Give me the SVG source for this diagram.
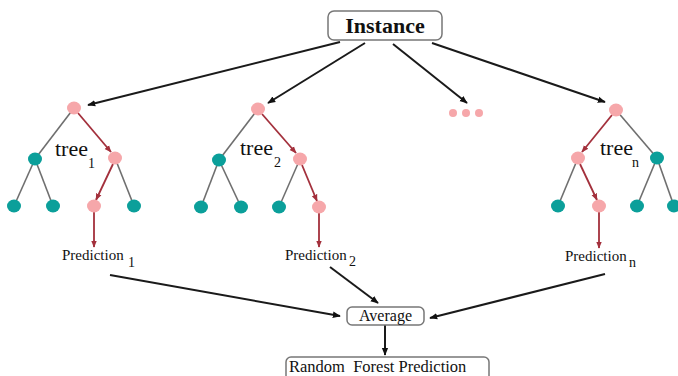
<svg xmlns="http://www.w3.org/2000/svg" width="678" height="376" viewBox="0 0 678 376">
<defs>
<marker id="ab" viewBox="0 0 10 10" refX="9" refY="5" markerWidth="4" markerHeight="4" orient="auto" markerUnits="strokeWidth"><path d="M0,1 L10,5 L0,9 z" fill="#111"/></marker>
<marker id="ar" viewBox="0 0 10 10" refX="9" refY="5" markerWidth="4" markerHeight="4" orient="auto" markerUnits="strokeWidth"><path d="M0,1 L10,5 L0,9 z" fill="#a3303c"/></marker>
<style>
.bl{stroke:#1a1a1a;stroke-width:2;fill:none;marker-end:url(#ab)}
.gr{stroke:#6f6f6f;stroke-width:1.6;fill:none}
.rd{stroke:#a3303c;stroke-width:1.8;fill:none;marker-end:url(#ar)}
.pk{fill:#f6a7aa}
.tl{fill:#0b9f9a}
.box{fill:#fff;stroke:#777;stroke-width:1.5}
.t{font-family:"Liberation Serif","Times New Roman",serif;fill:#111}
.tr{font-size:22px}
.sub{font-size:14px}
.pr{font-size:15px}
</style>
</defs>
<g id="connectors">
<line class="bl" x1="340" y1="42" x2="88" y2="105"/>
<line class="bl" x1="365" y1="43" x2="268" y2="103"/>
<line class="bl" x1="393" y1="44" x2="467" y2="103"/>
<line class="bl" x1="432" y1="43" x2="605" y2="102"/>
<line class="bl" x1="110" y1="275" x2="340" y2="316"/>
<line class="bl" x1="330" y1="267" x2="378" y2="303"/>
<line class="bl" x1="605" y1="274" x2="430" y2="318"/>
<line class="bl" x1="385" y1="325" x2="385" y2="355"/>
</g>
<g id="instance">
<rect class="box" x="328" y="11" width="114" height="29" rx="6"/>
<text class="t" x="385" y="33" text-anchor="middle" font-size="22" font-weight="bold">Instance</text>
</g>
<g id="tree1">
<line class="gr" x1="74" y1="108" x2="35" y2="159"/>
<line class="gr" x1="35" y1="159" x2="14" y2="206"/>
<line class="gr" x1="35" y1="159" x2="53" y2="206"/>
<line class="gr" x1="115" y1="158" x2="134" y2="206"/>
<line class="rd" x1="78" y1="113" x2="111" y2="152"/>
<line class="rd" x1="113" y1="164" x2="96" y2="200"/>
<line class="rd" x1="94" y1="212" x2="94" y2="247"/>
<ellipse class="pk" cx="74" cy="108" rx="7" ry="6.5"/>
<ellipse class="tl" cx="35" cy="159" rx="7" ry="6.5"/>
<ellipse class="pk" cx="115" cy="158" rx="7" ry="6.5"/>
<ellipse class="tl" cx="14" cy="206" rx="7" ry="6.5"/>
<ellipse class="tl" cx="53" cy="206" rx="7" ry="6.5"/>
<ellipse class="pk" cx="94" cy="206" rx="7" ry="6.5"/>
<ellipse class="tl" cx="134" cy="206" rx="7" ry="6.5"/>
<text class="t tr" x="55" y="156">tree</text>
<text class="t sub" x="88" y="168">1</text>
</g>
<g id="tree2">
<line class="gr" x1="258" y1="109" x2="219" y2="160"/>
<line class="gr" x1="219" y1="160" x2="201" y2="207"/>
<line class="gr" x1="219" y1="160" x2="241" y2="207"/>
<line class="gr" x1="300" y1="159" x2="279" y2="207"/>
<line class="rd" x1="262" y1="114" x2="296" y2="153"/>
<line class="rd" x1="302" y1="165" x2="317" y2="201"/>
<line class="rd" x1="319" y1="213" x2="319" y2="247"/>
<ellipse class="pk" cx="258" cy="109" rx="7" ry="6.5"/>
<ellipse class="tl" cx="219" cy="160" rx="7" ry="6.5"/>
<ellipse class="pk" cx="300" cy="159" rx="7" ry="6.5"/>
<ellipse class="tl" cx="201" cy="207" rx="7" ry="6.5"/>
<ellipse class="tl" cx="241" cy="207" rx="7" ry="6.5"/>
<ellipse class="tl" cx="279" cy="207" rx="7" ry="6.5"/>
<ellipse class="pk" cx="319" cy="207" rx="7" ry="6.5"/>
<text class="t tr" x="240" y="155">tree</text>
<text class="t sub" x="274" y="167">2</text>
</g>
<g id="dots">
<circle class="pk" cx="453" cy="113" r="4"/>
<circle class="pk" cx="466" cy="113" r="4"/>
<circle class="pk" cx="479" cy="113" r="4"/>
</g>
<g id="treen">
<line class="gr" x1="616" y1="110" x2="657" y2="158"/>
<line class="gr" x1="578" y1="158" x2="558" y2="206"/>
<line class="gr" x1="657" y1="158" x2="637" y2="206"/>
<line class="gr" x1="657" y1="158" x2="674" y2="206"/>
<line class="rd" x1="612" y1="115" x2="582" y2="152"/>
<line class="rd" x1="580" y1="164" x2="597" y2="200"/>
<line class="rd" x1="599" y1="212" x2="599" y2="248"/>
<ellipse class="pk" cx="616" cy="110" rx="7" ry="6.5"/>
<ellipse class="pk" cx="578" cy="158" rx="7" ry="6.5"/>
<ellipse class="tl" cx="657" cy="158" rx="7" ry="6.5"/>
<ellipse class="tl" cx="558" cy="206" rx="7" ry="6.5"/>
<ellipse class="pk" cx="599" cy="206" rx="7" ry="6.5"/>
<ellipse class="tl" cx="637" cy="206" rx="7" ry="6.5"/>
<ellipse class="tl" cx="674" cy="206" rx="7" ry="6.5"/>
<text class="t tr" x="600" y="155">tree</text>
<text class="t sub" x="632" y="167">n</text>
</g>
<g id="prediction1">
<text class="t pr" x="62" y="260">Prediction</text>
<text class="t sub" x="128" y="267">1</text>
</g>
<g id="prediction2">
<text class="t pr" x="285" y="260">Prediction</text>
<text class="t sub" x="349" y="266">2</text>
</g>
<g id="predictionn">
<text class="t pr" x="565" y="261">Prediction</text>
<text class="t sub" x="629" y="267">n</text>
</g>
<g id="average">
<rect class="box" x="347" y="307" width="77" height="18" rx="5"/>
<text class="t" x="385.5" y="321" text-anchor="middle" font-size="16">Average</text>
</g>
<g id="rfp">
<rect class="box" x="286" y="357" width="203" height="26" rx="5"/>
<text class="t" x="289" y="372" font-size="16.5" style="white-space:pre">Random  Forest Prediction</text>
</g>
</svg>
